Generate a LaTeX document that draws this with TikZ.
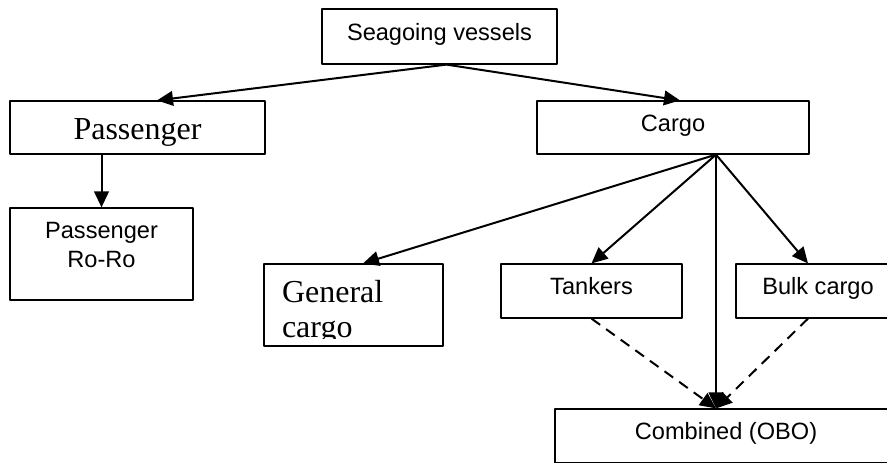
\documentclass[tikz,border=0pt]{standalone}
\usepackage{fontspec}
\setmainfont{Liberation Serif}
\setsansfont{Liberation Sans}
\usetikzlibrary{arrows.meta,calc}
\begin{document}
\begin{tikzpicture}[x=.75pt, y=-.75pt, line join=round, >={Triangle[length=12pt,width=11pt]},
	box/.style={draw, line width=.9pt, inner sep=0pt},
	sbox/.style={box, font=\sffamily\fontsize{17.7}{21.75}\selectfont, text height=13pt, text depth=7.75pt},
	rbox/.style={box, font=\fontsize{24}{26.25}\selectfont},
	conn/.style={->, line width=1.5pt},
	dconn/.style={conn, dash pattern=on 8pt off 5.5pt}]
	\clip (0,0) rectangle (887,462);
	% boxes
	\node[sbox, minimum width=176.25pt, minimum height=41.25pt] (sea) at (439.5,36.5) {Seagoing vessels};
	\node[rbox, minimum width=191.25pt, minimum height=39.75pt, text height=17.25pt, text depth=0pt] (pass) at (137.5,127.5) {Passenger};
	\node[sbox, minimum width=204pt, minimum height=39.75pt] (cargo) at (673,127.5) {Cargo};
	\node[sbox, align=center, text height=19.5pt, text depth=0pt, minimum width=137.25pt, minimum height=69pt] (ro) at (101.5,254) {Passenger\\Ro-Ro};
	\node[box, minimum width=134.25pt, minimum height=61.5pt] (gen) at (353.5,305) {};
	\node[sbox, minimum width=135.75pt, minimum height=40.5pt] (tank) at (591.5,291) {Tankers};
	\node[sbox, minimum width=123pt, minimum height=40.5pt] (bulk) at (818,291) {Bulk cargo};
	\node[sbox, minimum width=256.5pt, minimum height=40.5pt] (comb) at (726,436) {Combined (OBO)};
	\begin{scope}
		\clip ($(gen.north west)+(1,1)$) rectangle ($(gen.south east)+(-1,-8)$);
		\node[rbox, draw=none, align=left, anchor=north west] (gentext) at ($(gen.north west)+(18,16)$) {General\\cargo};
	\end{scope}
	% arrows
	\coordinate (hub) at ($(cargo.south)+(43,0)$);
	\draw[conn] ($(sea.south)+(7,0)$) -- ($(pass.north)+(19.5,0)$);
	\draw[conn] ($(sea.south)+(7,0)$) -- ($(cargo.north)+(7,0)$);
	\draw[conn] (ro.north |- pass.south) -- (ro.north);
	\draw[conn] (hub) -- ($(gen.north)+(9.5,0)$);
	\draw[conn] (hub) -- (tank.north);
	\draw[conn] (hub) -- (hub |- comb.north);
	\draw[conn] (hub) -- ($(bulk.north)+(-10,0)$);
	\draw[dconn] (tank.south) -- (hub |- comb.north);
	\draw[dconn] ($(bulk.south)+(-10,0)$) -- (hub |- comb.north);
\end{tikzpicture}
\end{document}
